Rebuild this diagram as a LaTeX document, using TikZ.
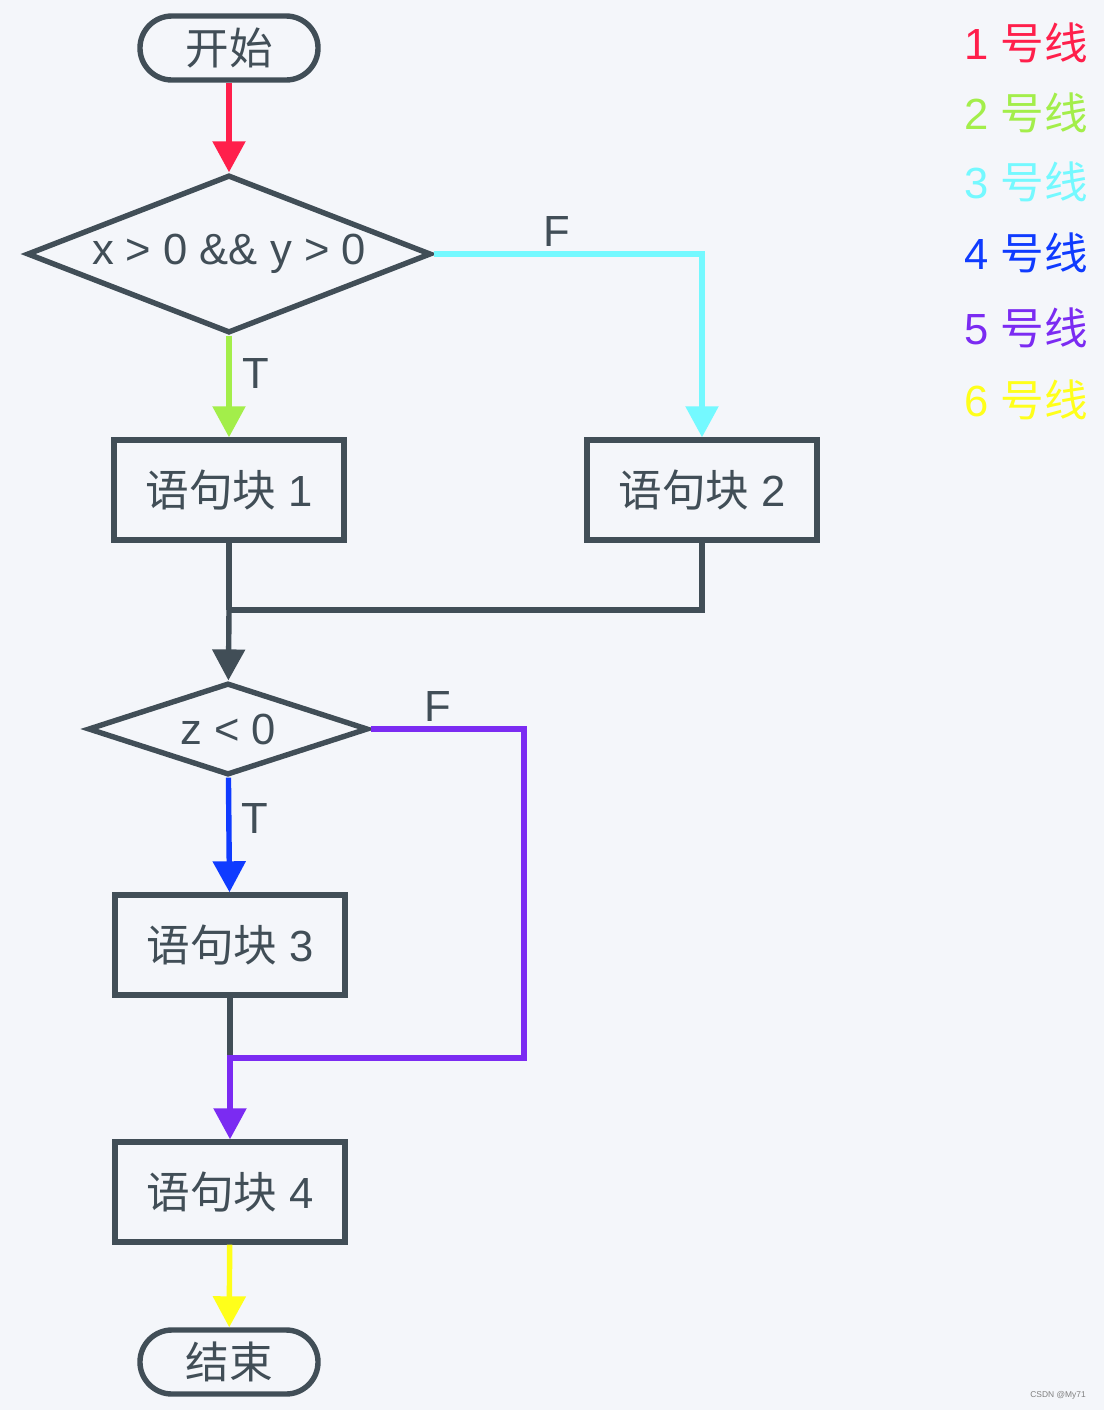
\documentclass[tikz,border=0pt]{standalone}
\usepackage{fontspec}
\setmainfont{Liberation Sans}
\newfontfamily\cjk{Noto Sans CJK SC}
\usetikzlibrary{shapes.geometric,arrows.meta}
\definecolor{ink}{HTML}{414E57}
\definecolor{paper}{HTML}{F4F6FA}
\definecolor{l1}{HTML}{FF1F4B}
\definecolor{l2}{HTML}{A3EE4A}
\definecolor{l3}{HTML}{74F9FF}
\definecolor{l4}{HTML}{0F3BFF}
\definecolor{l5}{HTML}{7B2BF2}
\definecolor{l6}{HTML}{FFFF1A}
\begin{document}
\begin{tikzpicture}[x=0.025cm,y=-0.025cm,line width=0.135cm,color=ink,
  every node/.style={font=\fontsize{31}{37}\selectfont},
  term/.style={draw=ink,rectangle,rounded corners=0.8cm,minimum width=4.45cm,minimum height=1.6cm},
  blockbox/.style={draw=ink,rectangle,minimum width=5.75cm,minimum height=2.5cm},
  cond/.style={draw=ink,diamond,inner sep=0pt},
  arr/.style={-{Triangle[length=7.75mm,width=8mm]}}]
  \fill[paper] (0,0) rectangle (1104,1410);
  \useasboundingbox (0,0) rectangle (1104,1410);

  \node[term] (start) at (229,48) {\cjk 开始};
  \node[cond,minimum width=10.1cm,minimum height=3.95cm,aspect=2.6] (cond1) at (229,254) {x > 0 \&\& y > 0};
  \node[blockbox] (blk1) at (229,490) {{\cjk 语句块} 1};
  \node[blockbox] (blk2) at (702,490) {{\cjk 语句块} 2};
  \coordinate (join1) at (229,610);
  \node[cond,minimum width=7cm,minimum height=2.3cm,aspect=3] (cond2) at (228,729) {z < 0};
  \node[blockbox] (blk3) at (230,945) {{\cjk 语句块} 3};
  \coordinate (turn) at (524,1058);
  \coordinate (join2) at (230,1058);
  \node[blockbox] (blk4) at (230,1192) {{\cjk 语句块} 4};
  \node[term] (stop) at (229,1362) {\cjk 结束};

  \draw[arr,l1] (start) -- (cond1);
  \draw[arr,l2] (cond1) -- node[right=4pt,pos=0.37,text=ink] {T} (blk1);
  \draw[arr,l3] (cond1.east) -| node[above,pos=0.23,text=ink] {F} (blk2);
  \draw (blk1) -- (join1);
  \draw (blk2) |- (join1);
  \draw[arr] (join1) -- (cond2);
  \draw[arr,l4] (cond2) -- node[right=4pt,pos=0.36,text=ink] {T} (blk3);
  \draw (blk3) -- (join2);
  \draw[arr,l5] (cond2.east) -| node[above,pos=0.22,text=ink] {F} (turn) -- (join2) -- (blk4);
  \draw[arr,l6] (blk4) -- (stop);

  \foreach \i/\y/\c in {1/43/l1,2/113/l2,3/182/l3,4/253/l4,5/328/l5,6/400/l6}
    \node[text=\c] (leg\i) at (1026,\y) {\i\ {\cjk 号线}};

  \node[font=\fontsize{6}{7}\selectfont,text=gray] (mark) at (1058,1395) {CSDN @My71};
\end{tikzpicture}
\end{document}
